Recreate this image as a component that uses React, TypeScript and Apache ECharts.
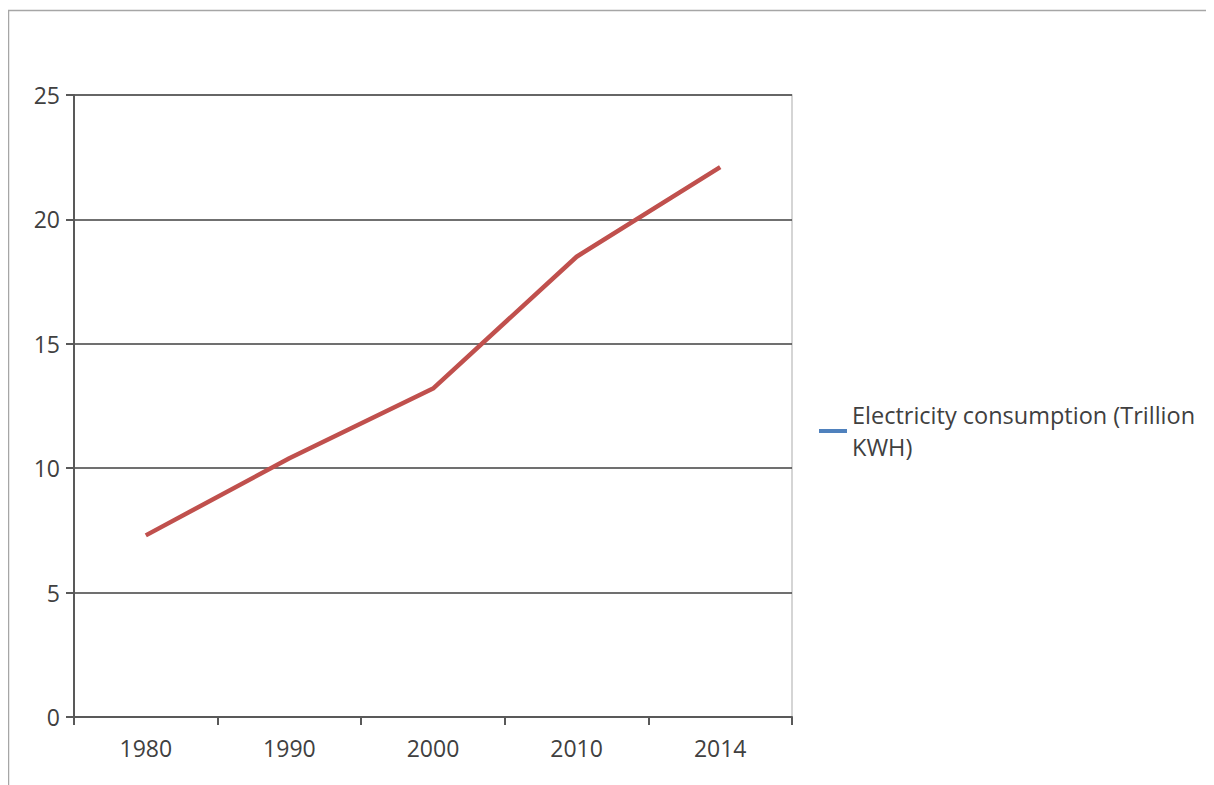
import React, { useEffect, useRef } from "react";
import * as echarts from "echarts";

const years = ["1980", "1990", "2000", "2010", "2014"];
const consumption = [7.3, 10.4, 13.2, 18.5, 22.1];
const seriesName = "Electricity consumption (Trillion KWH)";

export default function App() {
  const ref = useRef<HTMLDivElement>(null);

  useEffect(() => {
    if (!ref.current) return;
    const chart = echarts.init(ref.current, null, { renderer: "svg" });
    const font = "Open Sans";
    chart.setOption({
      animation: false,
      backgroundColor: "#ffffff",
      graphic: [
        {
          type: "rect",
          shape: { x: 0.5, y: 2.5, width: 1260, height: 820 },
          style: { fill: "none", stroke: "#a6a6a6", lineWidth: 1.5 },
          silent: true,
        },
      ],
      grid: {
        left: 66,
        top: 87,
        right: 422,
        bottom: 68,
        show: true,
        borderColor: "#c8c8c8",
        borderWidth: 1.5,
      },
      legend: {
        left: 806,
        top: 386,
        icon: "rect",
        itemWidth: 28,
        itemHeight: 4,
        itemGap: 6,
        data: [{ name: seriesName, itemStyle: { color: "#4f81bd" } }],
        formatter: () => "Electricity consumption (Trillion\nKWH)",
        textStyle: {
          fontFamily: font,
          fontSize: 23.5,
          lineHeight: 32,
          color: "#404040",
        },
      },
      xAxis: {
        type: "category",
        data: years,
        boundaryGap: true,
        axisLine: { lineStyle: { color: "#595959", width: 2 } },
        axisTick: { show: true, length: 8, lineStyle: { color: "#595959", width: 2 } },
        axisLabel: { fontFamily: font, fontSize: 23, color: "#404040", margin: 19 },
      },
      yAxis: {
        type: "value",
        min: 0,
        max: 25,
        interval: 5,
        axisLine: { show: true, lineStyle: { color: "#595959", width: 2 } },
        axisTick: { show: true, length: 8, lineStyle: { color: "#595959", width: 2 } },
        axisLabel: { fontFamily: font, fontSize: 23, color: "#404040", margin: 14 },
        splitLine: { lineStyle: { color: "#404040", width: 1.5 } },
      },
      series: [
        {
          name: seriesName,
          type: "line",
          data: consumption,
          symbol: "none",
          lineStyle: { color: "#c0504d", width: 4.5 },
          itemStyle: { color: "#c0504d" },
        },
      ],
    });
    return () => chart.dispose();
  }, []);

  return <div ref={ref} style={{ width: 1206, height: 777 }} />;
}
